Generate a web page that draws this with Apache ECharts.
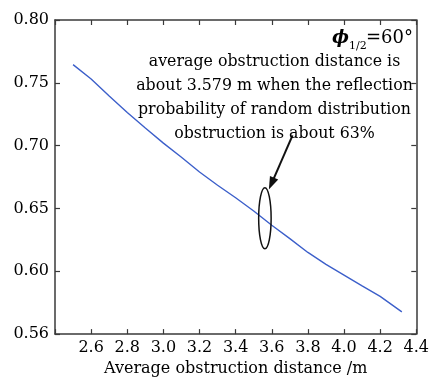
<!DOCTYPE html>
<html>
<head>
<meta charset="utf-8">
<script src="https://cdn.jsdelivr.net/npm/echarts@6/dist/echarts.min.js"></script>
<style>html,body{margin:0;padding:0;background:#fff}#c{width:432px;height:382px}</style>
</head>
<body>
<div id="c"></div>
<script>
// ---- data ----
const xValues = [2.5, 2.6, 2.7, 2.8, 2.9, 3.0, 3.1, 3.2, 3.3, 3.4, 3.5, 3.6, 3.7, 3.8, 3.9, 4.0, 4.1, 4.2, 4.32];
const yValues = [0.7645, 0.7530, 0.7395, 0.7264, 0.7140, 0.7020, 0.6907, 0.6790, 0.6685, 0.6585, 0.6480, 0.6366, 0.6260, 0.6150, 0.6055, 0.5970, 0.5884, 0.5800, 0.5677];
const xTickLabels = ['', '2.6', '2.8', '3.0', '3.2', '3.4', '3.6', '3.8', '4.0', '4.2', '4.4'];
const yTickLabels = ['0.56', '0.60', '0.65', '0.70', '0.75', '0.80'];
const xAxisName = 'Average obstruction distance /m';
const noteLines = ['average obstruction distance is', 'about 3.579 m when the reflection', 'probability of random distribution', 'obstruction is about 63%'];
const phiMain = '\u03d5', phiSub = '1/2', phiRest = '=60\u00b0';
// annotation anchors (data coords)
const ellipseCenter = [3.562, 0.6422];
const ellipseRadius = [0.0345, 0.0243];
const arrowTail = [3.715, 0.7082];
const arrowTip = [3.584, 0.6650];

const FONT = 'DejaVu Serif';
const AX = '#3a3a3a';
const chart = echarts.init(document.getElementById('c'));

function axisCommon() {
  return {
    type: 'value',
    axisLine: { show: true, lineStyle: { color: AX, width: 1.5 } },
    axisTick: { show: true, inside: true, length: 5, lineStyle: { color: AX, width: 1.2 } },
    splitLine: { show: false }
  };
}

chart.setOption({
  animation: false,
  grid: { left: 55, right: 12, top: 20, bottom: 45 },
  xAxis: [
    Object.assign(axisCommon(), {
      position: 'bottom', min: 2.4, max: 4.4, interval: 0.2,
      axisLabel: { margin: 6, fontFamily: FONT, fontSize: 16, color: '#000',
        formatter: v => xTickLabels[Math.round((v - 2.4) / 0.2)] || '' },
      name: xAxisName, nameLocation: 'middle', nameGap: 26,
      nameTextStyle: { fontFamily: FONT, fontSize: 16, color: '#000' }
    }),
    Object.assign(axisCommon(), {
      position: 'top', min: 2.4, max: 4.4, interval: 0.2, axisLabel: { show: false }
    })
  ],
  yAxis: [
    Object.assign(axisCommon(), {
      position: 'left', min: 0.55, max: 0.80, interval: 0.05,
      axisLabel: { margin: 6, fontFamily: FONT, fontSize: 16, color: '#000',
        formatter: v => yTickLabels[Math.round((v - 0.55) / 0.05)] || '' }
    }),
    Object.assign(axisCommon(), {
      position: 'right', min: 0.55, max: 0.80, interval: 0.05, axisLabel: { show: false }
    })
  ],
  series: [
    {
      type: 'line',
      data: xValues.map((x, i) => [x, yValues[i]]),
      showSymbol: false,
      lineStyle: { color: '#3c5fca', width: 1.4 },
      z: 3
    },
    {
      type: 'custom',
      data: [[ellipseCenter[0], ellipseCenter[1]]],
      z: 4,
      renderItem: function (params, api) {
        const c = api.coord(ellipseCenter);
        const ex = api.coord([ellipseCenter[0] + ellipseRadius[0], ellipseCenter[1]]);
        const ey = api.coord([ellipseCenter[0], ellipseCenter[1] + ellipseRadius[1]]);
        const rx = Math.abs(ex[0] - c[0]), ry = Math.abs(ey[1] - c[1]);
        const t = api.coord(arrowTail), h = api.coord(arrowTip);
        const dx = h[0] - t[0], dy = h[1] - t[1];
        const L = Math.sqrt(dx * dx + dy * dy), ux = dx / L, uy = dy / L;
        const hl = 13, hw = 4.5;
        const bx = h[0] - ux * hl, by = h[1] - uy * hl;
        return {
          type: 'group',
          children: [
            { type: 'ellipse', shape: { cx: c[0], cy: c[1], rx: rx, ry: ry },
              style: { fill: 'none', stroke: '#111', lineWidth: 1.5 } },
            { type: 'line', shape: { x1: t[0], y1: t[1], x2: bx + ux * 2, y2: by + uy * 2 },
              style: { stroke: '#111', lineWidth: 2 } },
            { type: 'polygon', shape: { points: [[h[0], h[1]], [bx - uy * hw, by + ux * hw], [bx + uy * hw, by - ux * hw]] },
              style: { fill: '#111' } }
          ]
        };
      }
    }
  ],
  graphic: [
    { type: 'text', x: 274.5, y: 50, z: 10,
      style: { text: noteLines.join('\n'), textAlign: 'center', textVerticalAlign: 'top',
        font: '15.8px "' + FONT + '"', lineHeight: 24, fill: '#000' } },
    { type: 'text', x: 349, y: 38, z: 10,
      style: { text: phiMain, textAlign: 'right', textVerticalAlign: 'middle',
        font: 'italic bold 18px "' + FONT + '"', fill: '#000' } },
    { type: 'text', x: 349, y: 46, z: 10,
      style: { text: phiSub, textAlign: 'left', textVerticalAlign: 'middle',
        font: '11px "' + FONT + '"', fill: '#000' } },
    { type: 'text', x: 366, y: 38, z: 10,
      style: { text: phiRest, textAlign: 'left', textVerticalAlign: 'middle',
        font: '18px "' + FONT + '"', fill: '#000' } }
  ]
});
</script>
</body>
</html>
